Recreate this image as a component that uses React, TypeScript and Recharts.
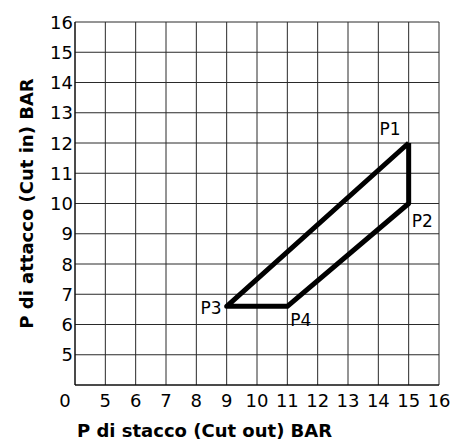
import { LineChart, Line, XAxis, YAxis, CartesianGrid, LabelList } from 'recharts';

// punti del ciclo: P1 -> P2 -> P4 -> P3 -> P1
const cutOut = [15, 15, 11, 9, 15];
const cutIn = [12, 10, 6.6, 6.6, 12];
const pointNames = ['P1', 'P2', 'P4', 'P3', ''];

const xTicks = [4, 5, 6, 7, 8, 9, 10, 11, 12, 13, 14, 15, 16];
const yTicks = [4, 5, 6, 7, 8, 9, 10, 11, 12, 13, 14, 15, 16];

const data = cutOut.map((x, i) => ({ x, y: cutIn[i], name: pointNames[i] }));

const FONT = '"DejaVu Sans", Verdana, sans-serif';

// spostamento delle etichette rispetto al punto
const labelPos: Record<string, { dx: number; dy: number; anchor: string }> = {
  P1: { dx: -8, dy: -8, anchor: 'end' },
  P2: { dx: 3, dy: 23, anchor: 'start' },
  P3: { dx: -5, dy: 8, anchor: 'end' },
  P4: { dx: 3, dy: 20, anchor: 'start' },
};

const PointLabel = (props: any) => {
  const { x, y, value } = props;
  const p = labelPos[value];
  if (!p) return null;
  return (
    <text x={x + p.dx} y={y + p.dy} textAnchor={p.anchor} fontSize={17} fontFamily={FONT} fill="#000">
      {value}
    </text>
  );
};

const XTick = (props: any) => {
  const { x, y, payload } = props;
  const isOrigin = payload.value === 4;
  return (
    <text x={isOrigin ? x - 10 : x} y={y + 20} textAnchor="middle" fontSize={18} fontFamily={FONT} fill="#000">
      {isOrigin ? '0' : payload.value}
    </text>
  );
};

const YTick = (props: any) => {
  const { x, y, payload } = props;
  if (payload.value === 4) return null;
  return (
    <text x={x} y={y + 6.5} textAnchor="end" fontSize={18} fontFamily={FONT} fill="#000">
      {payload.value}
    </text>
  );
};

export default function App() {
  return (
    <LineChart width={447} height={436} data={data} margin={{ top: 14, right: 16, left: 0, bottom: 0 }}>
      <CartesianGrid stroke="#2a2a2a" strokeWidth={1} />
      <XAxis
        dataKey="x"
        type="number"
        domain={[4, 16]}
        ticks={xTicks}
        interval={0}
        tickLine={false}
        tickSize={0}
        axisLine={{ stroke: '#000' }}
        tick={<XTick />}
        height={59}
        label={(props: any) => {
          const vb = props.viewBox;
          return (
            <text x={vb.x + 2} y={vb.y + 52} fontSize={18} fontWeight="bold" fontFamily={FONT} fill="#000">
              P di stacco (Cut out) BAR
            </text>
          );
        }}
      />
      <YAxis
        dataKey="y"
        type="number"
        domain={[4, 16]}
        ticks={yTicks}
        interval={0}
        tickLine={false}
        tickSize={0}
        axisLine={{ stroke: '#000' }}
        tick={<YTick />}
        width={67}
        label={{
          value: 'P di attacco (Cut in) BAR',
          angle: -90,
          position: 'insideLeft',
          offset: 19,
          style: { textAnchor: 'middle', fontSize: 18, fontWeight: 'bold', fontFamily: FONT, fill: '#000' },
        }}
      />
      <Line
        dataKey="y"
        type="linear"
        stroke="#000"
        strokeWidth={5}
        strokeLinejoin="round"
        dot={false}
        activeDot={false}
        isAnimationActive={false}
      >
        <LabelList dataKey="name" content={<PointLabel />} />
      </Line>
    </LineChart>
  );
}
